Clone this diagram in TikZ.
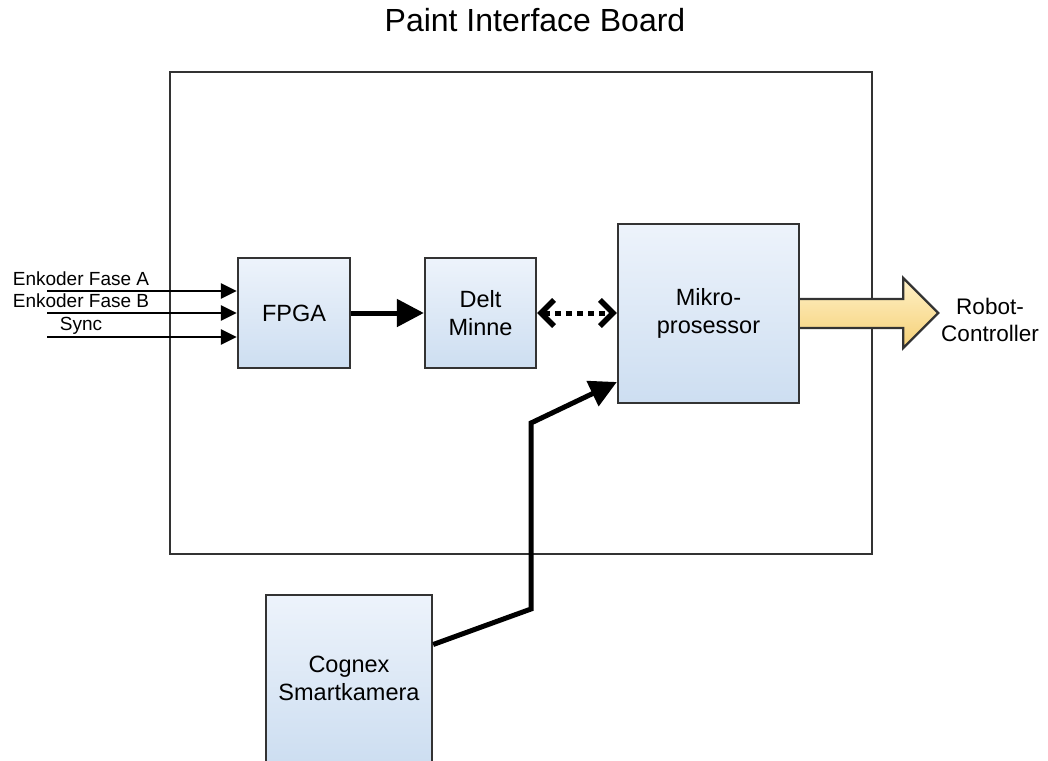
\documentclass[tikz,border=0pt]{standalone}
\usepackage{fontspec}
\setmainfont{Liberation Sans}
\usetikzlibrary{arrows.meta}
\definecolor{bordergray}{RGB}{51,51,51}
\definecolor{blueTop}{RGB}{237,243,251}
\definecolor{blueBot}{RGB}{205,222,241}
\definecolor{yelTop}{RGB}{255,241,200}
\definecolor{yelBot}{RGB}{245,208,118}
\begin{document}
\begin{tikzpicture}[x=1pt,y=-1pt,
  block/.style={draw=bordergray, line width=2.3pt, top color=blueTop, bottom color=blueBot,
    align=center, font=\fontsize{23.5}{28}\selectfont, inner sep=0pt},
  lbl/.style={font=\fontsize{19}{22}\selectfont, inner sep=0pt, anchor=base},
  inarrow/.style={line width=2.5pt, -{Triangle[length=16pt,width=15pt]}},
  bigarrow/.style={line width=5pt, -{Triangle[length=27pt,width=27pt]}},
  dotarrow/.style={line width=5pt, dash pattern=on 6pt off 5pt,
    {Straight Barb[length=13pt,width=26pt,line width=5.5pt]}-{Straight Barb[length=13pt,width=26pt,line width=5.5pt]}},
  fatarrow/.style={draw=bordergray, line width=2.3pt, top color=yelTop, bottom color=yelBot}
]
\useasboundingbox (0,0) rectangle (1048,760);

\node[font=\fontsize{32}{38}\selectfont, anchor=base, inner sep=0pt] (title) at (535,32) {Paint Interface Board};

\node[draw=bordergray, line width=2.3pt, minimum width=702pt, minimum height=482pt, inner sep=0pt] (board) at (521,313) {};

\node[block, minimum width=112pt, minimum height=110pt] (fpga) at (294,313) {FPGA};
\node[block, minimum width=111pt, minimum height=110pt] (delt) at (480.5,313) {Delt\\Minne};
\node[block, minimum width=181pt, minimum height=179pt] (mikro) at (708.5,313.5) {Mikro-\\prosessor};
\node[block, minimum width=166pt, minimum height=167pt] (cognex) at (349,678.5) {Cognex\\Smartkamera};

% inputs
\coordinate (ina) at (47,291);
\coordinate (inb) at (47,313);
\coordinate (ins) at (47,337);
\draw[inarrow] (ina) -- (ina -| fpga.west);
\draw[inarrow] (inb) -- (inb -| fpga.west);
\draw[inarrow] (ins) -- (ins -| fpga.west);
\node[lbl] (la) at (81,285) {Enkoder Fase A};
\node[lbl] (lb) at (81,307) {Enkoder Fase B};
\node[lbl] (ls) at (81,330) {Sync};

% FPGA -> Delt Minne
\draw[bigarrow] (fpga.east) -- (delt.west);

% Delt Minne <-> Mikroprosessor
\draw[dotarrow] (delt.east) -- (delt.east -| mikro.west);

% Camera -> Mikroprosessor
\coordinate (k1) at (531,609);
\coordinate (k2) at (531,423);
\draw[bigarrow] ([yshift=34pt]cognex.east) -- (k1) -- (k2) -- ([yshift=-68.5pt]mikro.west);

% output block arrow
\path[fatarrow] ([yshift=14.5pt]mikro.east) -- ++(103,0) -- ++(0,-21) -- ++(35,35) -- ++(-35,35) -- ++(0,-20) -- ++(-103,0);
\node[font=\fontsize{22.5}{27}\selectfont, align=center, inner sep=0pt] (robot) at (990,320) {Robot-\\Controller};
\end{tikzpicture}
\end{document}
